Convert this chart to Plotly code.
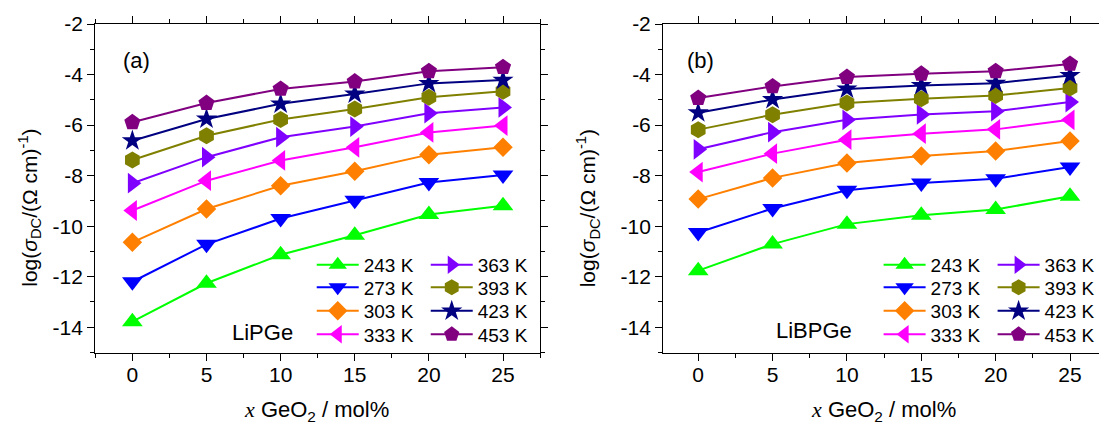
import plotly.graph_objects as go

W, H = 1107, 426

x_mol = [0, 5, 10, 15, 20, 25]
temps = ["243 K", "273 K", "303 K", "333 K", "363 K", "393 K", "423 K", "453 K"]

# LiPGe (panel a)
lipge_243 = [-13.78, -12.26, -11.13, -10.36, -9.54, -9.19]
lipge_273 = [-12.2, -10.72, -9.7, -8.97, -8.27, -7.98]
lipge_303 = [-10.64, -9.32, -8.4, -7.83, -7.17, -6.88]
lipge_333 = [-9.38, -8.2, -7.4, -6.88, -6.29, -6.02]
lipge_363 = [-8.3, -7.27, -6.48, -6.06, -5.53, -5.3]
lipge_393 = [-7.38, -6.42, -5.78, -5.36, -4.9, -4.66]
lipge_423 = [-6.62, -5.76, -5.16, -4.77, -4.35, -4.22]
lipge_453 = [-5.89, -5.13, -4.57, -4.28, -3.87, -3.71]

# LiBPGe (panel b)
libpge_243 = [-11.76, -10.71, -9.92, -9.57, -9.34, -8.82]
libpge_273 = [-10.25, -9.3, -8.58, -8.29, -8.12, -7.66]
libpge_303 = [-8.93, -8.09, -7.5, -7.22, -7.03, -6.63]
libpge_333 = [-7.86, -7.13, -6.58, -6.34, -6.17, -5.79]
libpge_363 = [-6.96, -6.28, -5.79, -5.58, -5.45, -5.09]
libpge_393 = [-6.18, -5.59, -5.13, -4.96, -4.83, -4.53]
libpge_423 = [-5.51, -4.99, -4.57, -4.43, -4.34, -4.04]
libpge_453 = [-4.93, -4.47, -4.1, -3.97, -3.87, -3.58]

y_tickvals = [-2, -4, -6, -8, -10, -12, -14]
y_ticktext = ["-2", "-4", "-6", "-8", "-10", "-12", "-14"]
y_minor = [-3, -5, -7, -9, -11, -13, -15]
x_tickvals = [0, 5, 10, 15, 20, 25]
x_ticktext = ["0", "5", "10", "15", "20", "25"]
x_minor = [-2.5, 2.5, 7.5, 12.5, 17.5, 22.5, 27.5]

panels = [
    [lipge_243, lipge_273, lipge_303, lipge_333, lipge_363, lipge_393, lipge_423, lipge_453],
    [libpge_243, libpge_273, libpge_303, libpge_333, libpge_363, libpge_393, libpge_423, libpge_453],
]

colors = ["#00FF00", "#0000FF", "#FF8000", "#FF00FF", "#8000FF", "#808000", "#000080", "#800080"]
symbols = ["triangle-up", "triangle-down", "diamond", "triangle-left",
           "triangle-right", "hexagon", "star", "pentagon"]
sizes = [18, 18, 15, 18, 18, 17, 16, 17]

FONT = "Liberation Sans, Arial, sans-serif"

fig = go.Figure()

legend_names = ["legend"] + ["legend%d" % k for k in range(2, 9)]

for p, series in enumerate(panels):
    xa = "x" if p == 0 else "x2"
    ya = "y" if p == 0 else "y2"
    for i, vals in enumerate(series):
        row = i % 4
        fig.add_trace(go.Scatter(
            x=x_mol, y=vals, mode="lines+markers", name=temps[i],
            xaxis=xa, yaxis=ya,
            line=dict(color=colors[i], width=2),
            marker=dict(symbol=symbols[i], size=sizes[i], color=colors[i],
                        line=dict(width=0)),
            legend=legend_names[p * 4 + row],
        ))

# geometry (pixels)
left_dom = [96 / W, 544 / W]
right_dom = [668 / W, 1.0]
ydom = [1 - 352.5 / H, 1 - 24 / H]

axis_common = dict(
    showline=True, linecolor="black", linewidth=1.3,
    ticks="outside", ticklen=7, tickwidth=1.3, tickcolor="black",
    showgrid=False, zeroline=False, automargin=False,
    tickfont=dict(family=FONT, size=21, color="black"),
)
minor_common = dict(ticklen=4, tickwidth=1.3, tickcolor="black", ticks="outside")

fig.update_layout(
    width=W, height=H,
    margin=dict(l=0, r=0, t=0, b=0),
    paper_bgcolor="white", plot_bgcolor="white",
    font=dict(family=FONT, color="black"),
    showlegend=True,
    xaxis=dict(domain=left_dom, range=[-2.5, 27.5], anchor="y",
               tickvals=x_tickvals, ticktext=x_ticktext, mirror="ticks",
               ticklabelstandoff=-4,
               minor=dict(tickvals=x_minor, **minor_common), **axis_common),
    yaxis=dict(domain=ydom, range=[-15, -2], anchor="x",
               tickvals=y_tickvals, ticktext=y_ticktext, mirror="ticks",
               minor=dict(tickvals=y_minor, **minor_common), **axis_common),
    xaxis2=dict(domain=right_dom, range=[(668 - 703.3) / 14.98, (1107 - 703.3) / 14.98],
                anchor="y2", tickvals=x_tickvals, ticktext=x_ticktext, mirror="ticks",
                ticklabelstandoff=-4,
                minor=dict(tickvals=x_minor, **minor_common), **axis_common),
    yaxis2=dict(domain=ydom, range=[-15, -2], anchor="x2",
                tickvals=y_tickvals, ticktext=y_ticktext, mirror=False,
                minor=dict(tickvals=y_minor, **minor_common), **axis_common),
)

rows_px = [265, 287.5, 311, 334.5]
legend_x0 = [314, 885]
for p in range(2):
    for r in range(4):
        name = legend_names[p * 4 + r]
        fig.update_layout({name: dict(
            x=legend_x0[p] / W, y=1 - rows_px[r] / H, xanchor="left", yanchor="middle",
            orientation="h", bgcolor="rgba(0,0,0,0)", borderwidth=0,
            font=dict(family=FONT, size=19, color="black"),
            entrywidth=57, entrywidthmode="pixels", itemwidth=42,
        )})

def px_ann(text, xpx, ypx, size, angle=0):
    return dict(text=text, x=xpx / W, y=1 - ypx / H, xref="paper", yref="paper",
                xanchor="center", yanchor="middle", showarrow=False, textangle=angle,
                font=dict(family=FONT, size=size, color="black"))

ytitle = "log(<i>σ</i><sub>DC</sub>/(Ω cm)<sup>-1</sup>)"
xtitle = "<span style='font-family:Liberation Serif, Times New Roman, serif'><i>x</i></span> GeO<sub>2</sub> / mol%"

fig.update_layout(annotations=[
    px_ann("(a)", 137, 60, 22),
    px_ann("(b)", 706, 60, 22),
    px_ann("LiPGe", 264.6, 332, 22),
    px_ann("LiBPGe", 819.7, 330, 22),
    px_ann(ytitle, 30, 208, 21, -90),
    px_ann(ytitle, 592.6, 208, 21, -90),
    px_ann(xtitle, 319, 411, 22),
    px_ann(xtitle, 889.5, 411, 22),
])

fig.write_html("out.html", config={"displayModeBar": False},
               post_script="document.body.style.margin='0';document.body.style.overflow='hidden';")
